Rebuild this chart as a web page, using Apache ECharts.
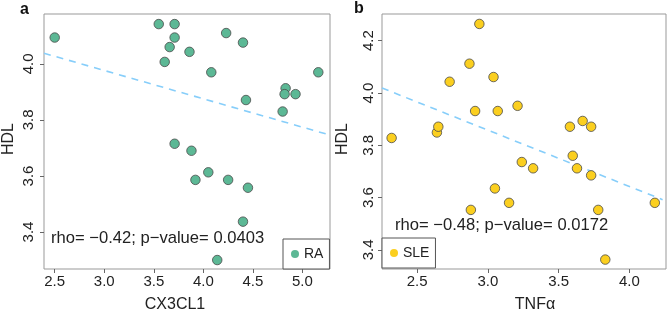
<!DOCTYPE html>
<html>
<head>
<meta charset="utf-8">
<script src="https://cdn.jsdelivr.net/npm/echarts@6/dist/echarts.min.js"></script>
<style>
  html, body {margin: 0; padding: 0; background: #fff;}
  #main {width: 667px; height: 313px;}
</style>
</head>
<body>
<div id="main"></div>
<script>
// RA panel (a)
const raX = [2.50, 3.55, 3.71, 3.71, 3.66, 3.86, 3.61, 4.08, 4.23, 4.40, 5.16, 4.83,
             4.82, 4.93, 4.43, 4.80, 3.71, 3.88, 4.05, 3.92, 4.25, 4.45, 4.40, 4.14];
const raY = [4.094, 4.142, 4.142, 4.094, 4.060, 4.043, 4.007, 3.970, 4.110, 4.076, 3.970, 3.913,
             3.892, 3.892, 3.871, 3.830, 3.715, 3.690, 3.613, 3.586, 3.586, 3.558, 3.437, 3.300];
const raTrend = [[2.392, 4.038], [5.278, 3.746]];

// SLE panel (b)
const sleX = [2.94, 2.87, 3.04, 2.73, 2.91, 3.07, 3.21, 2.32, 2.64, 2.65, 3.58, 3.67,
              3.73, 3.60, 3.24, 3.32, 3.63, 3.73, 3.05, 3.15, 2.88, 3.78, 4.18, 3.83];
const sleY = [4.264, 4.112, 4.061, 4.043, 3.931, 3.931, 3.951, 3.828, 3.849, 3.871, 3.871, 3.893,
              3.871, 3.760, 3.736, 3.712, 3.712, 3.685, 3.635, 3.580, 3.553, 3.553, 3.580, 3.363];
const sleTrend = [[2.252, 4.019], [4.235, 3.592]];

const ticksAX = [2.5, 3.0, 3.5, 4.0, 4.5, 5.0];
const ticksAY = [3.4, 3.6, 3.8, 4.0];
const ticksBX = [2.5, 3.0, 3.5, 4.0];
const ticksBY = [3.4, 3.6, 3.8, 4.0, 4.2];

const statA = 'rho= \u22120.42; p\u2212value= 0.0403';
const statB = 'rho= \u22120.48; p\u2212value= 0.0172';

const FONT = '"Liberation Sans", Arial, sans-serif';
const green = '#5cb895';
const yellow = '#fbcf1f';

const zip = (xs, ys) => xs.map((x, i) => [x, ys[i]]);

function xAxis(idx, min, max, ticks) {
  return {
    type: 'value', gridIndex: idx, min: min, max: max,
    axisLine: {show: false},
    splitLine: {show: false},
    axisTick: {show: true, length: 4, customValues: ticks, lineStyle: {color: '#666'}},
    axisLabel: {customValues: ticks, margin: 5, color: '#222', fontSize: 15, fontFamily: FONT,
      formatter: v => v.toFixed(1)}
  };
}
function yAxis(idx, min, max, ticks, margin) {
  return {
    type: 'value', gridIndex: idx, min: min, max: max,
    axisLine: {show: false},
    splitLine: {show: false},
    axisTick: {show: true, length: 4, customValues: ticks, lineStyle: {color: '#666'}},
    axisLabel: {customValues: ticks, rotate: 90, margin: margin, color: '#222', fontSize: 15, fontFamily: FONT,
      formatter: v => v.toFixed(1)}
  };
}

const chart = echarts.init(document.getElementById('main'));
chart.setOption({
  animation: false,
  grid: [
    {left: 44, top: 14, width: 286, height: 255, show: true, borderColor: '#999', borderWidth: 1},
    {left: 382, top: 14, width: 284, height: 255, show: true, borderColor: '#999', borderWidth: 1}
  ],
  xAxis: [xAxis(0, 2.392, 5.278, ticksAX), xAxis(1, 2.252, 4.259, ticksBX)],
  yAxis: [yAxis(0, 3.268, 4.178, ticksAY, 8), yAxis(1, 3.327, 4.302, ticksBY, 6)],
  legend: [
    {data: ['RA'], left: 283, top: 239, orient: 'vertical', icon: 'circle',
      itemWidth: 8, itemHeight: 8, itemGap: 0, padding: [8, 6, 8, 8],
      borderColor: '#555', borderWidth: 1, backgroundColor: '#fff',
      itemStyle: {borderWidth: 0},
      textStyle: {color: '#222', fontSize: 14, fontFamily: FONT}},
    {data: ['SLE'], left: 382, top: 238, orient: 'vertical', icon: 'circle',
      itemWidth: 8, itemHeight: 8, itemGap: 0, padding: [8, 6, 8, 8],
      borderColor: '#555', borderWidth: 1, backgroundColor: '#fff',
      itemStyle: {borderWidth: 0},
      textStyle: {color: '#222', fontSize: 14, fontFamily: FONT}}
  ],
  graphic: [
    {type: 'text', left: 20, top: 2, style: {text: 'a', font: 'bold 16px ' + FONT, fill: '#111'}},
    {type: 'text', left: 354, top: 1, style: {text: 'b', font: 'bold 16px ' + FONT, fill: '#111'}},
    {type: 'text', x: 9, y: 139, rotation: Math.PI / 2, style: {text: 'HDL', font: '16px ' + FONT,
      fill: '#222', align: 'center', verticalAlign: 'middle'}},
    {type: 'text', x: 343, y: 139, rotation: Math.PI / 2, style: {text: 'HDL', font: '16px ' + FONT,
      fill: '#222', align: 'center', verticalAlign: 'middle'}},
    {type: 'text', x: 175, y: 305, style: {text: 'CX3CL1', font: '16px ' + FONT, fill: '#222',
      align: 'center', verticalAlign: 'middle'}},
    {type: 'text', x: 535, y: 305, style: {text: 'TNF\u03b1', font: '16px ' + FONT, fill: '#222',
      align: 'center', verticalAlign: 'middle'}},
    {type: 'text', x: 51, y: 238, style: {text: statA, font: '16.6px ' + FONT, fill: '#222',
      align: 'left', verticalAlign: 'middle'}},
    {type: 'text', x: 395, y: 225, style: {text: statB, font: '16.6px ' + FONT, fill: '#222',
      align: 'left', verticalAlign: 'middle'}}
  ],
  series: [
    {name: 'RA', type: 'scatter', xAxisIndex: 0, yAxisIndex: 0, symbolSize: 9.5,
      itemStyle: {color: green, borderColor: '#4a4a4a', borderWidth: 0.8, opacity: 1},
      data: zip(raX, raY)},
    {name: 'RA trend', type: 'line', xAxisIndex: 0, yAxisIndex: 0, symbol: 'none',
      lineStyle: {color: '#87cefa', width: 1.6, type: [7, 6]}, data: raTrend, z: 1},
    {name: 'SLE', type: 'scatter', xAxisIndex: 1, yAxisIndex: 1, symbolSize: 9.5,
      itemStyle: {color: yellow, borderColor: '#4a4a4a', borderWidth: 0.8, opacity: 1},
      data: zip(sleX, sleY)},
    {name: 'SLE trend', type: 'line', xAxisIndex: 1, yAxisIndex: 1, symbol: 'none',
      lineStyle: {color: '#87cefa', width: 1.6, type: [7, 6]}, data: sleTrend, z: 1}
  ]
});
</script>
</body>
</html>
